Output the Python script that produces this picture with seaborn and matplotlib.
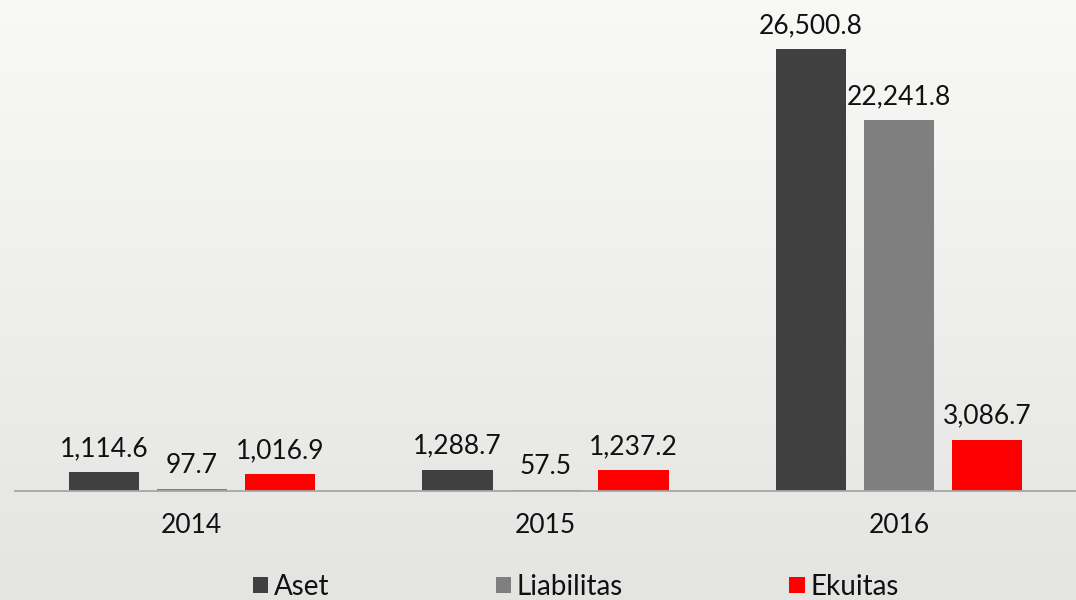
import numpy as np
import pandas as pd
import seaborn as sns
import matplotlib.pyplot as plt

# data
years = ['2014', '2015', '2016']
series = ['Aset', 'Liabilitas', 'Ekuitas']
aset = [1114.6, 1288.7, 26500.8]
liabilitas = [97.7, 57.5, 22241.8]
ekuitas = [1016.9, 1237.2, 3086.7]
colors = ['#404040', '#7f7f7f', '#ff0000']

df = pd.DataFrame({
    'Tahun': years * 3,
    'Seri': np.repeat(series, len(years)),
    'Nilai': aset + liabilitas + ekuitas,
})

sns.set_theme(style='white')
plt.rcParams['font.family'] = ['Lato', 'DejaVu Sans']

fig = plt.figure(figsize=(10.76, 6), dpi=100)

# light grey background, a bit darker toward the bottom
bg = fig.add_axes([0, 0, 1, 1], zorder=-1)
shade = np.linspace(0.975, 0.895, 256)[:, None]
grad = np.dstack([shade, shade, shade * 0.995])
bg.imshow(grad, aspect='auto', extent=[0, 1, 0, 1])
bg.axis('off')

ax = fig.add_axes([15 / 1076, 109 / 600, 1061 / 1076, 491 / 600])
ax.patch.set_alpha(0)
sns.barplot(data=df, x='Tahun', y='Nilai', hue='Seri', palette=colors,
            width=0.747, gap=0.2, ax=ax, saturation=1, linewidth=0)

for c in ax.containers:
    ax.bar_label(c, fmt='{:,.1f}', fontsize=19, padding=8, color='#111111')

ax.set_ylim(0, 29440)
ax.set_xlim(-0.5, 2.5)
ax.set_yticks([])
ax.set_xlabel('')
ax.set_ylabel('')
for s in ['top', 'left', 'right']:
    ax.spines[s].set_visible(False)
ax.spines['bottom'].set_color('#a6a6a6')
ax.spines['bottom'].set_linewidth(1.3)
ax.tick_params(axis='x', length=0, pad=16, labelsize=19, labelcolor='#111111')

handles, labels = ax.get_legend_handles_labels()
ax.get_legend().remove()
fig.legend(handles, labels, loc='center', bbox_to_anchor=(0.535, 0.022),
           ncol=3, frameon=False, fontsize=20, handlelength=0.55,
           handleheight=0.55, handletextpad=0.2, columnspacing=6.0,
           labelcolor='#111111')

fig.savefig('out.png', dpi=100)
